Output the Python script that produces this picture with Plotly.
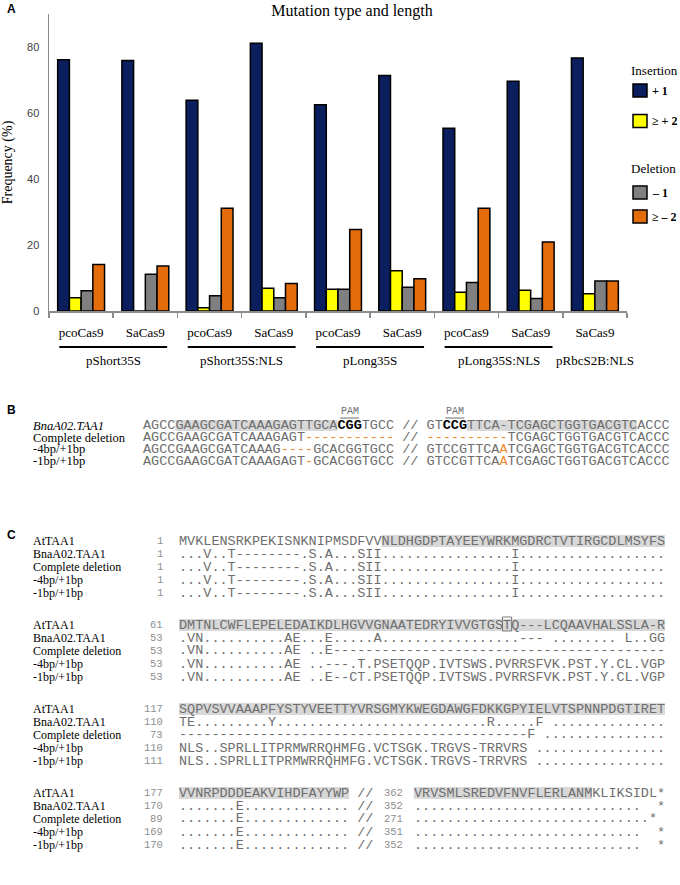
import plotly.graph_objects as go

# ---------------- Panel A data ----------------
constructs = ["pcoCas9", "SaCas9", "pcoCas9", "SaCas9", "pcoCas9",
              "SaCas9", "pcoCas9", "SaCas9", "SaCas9"]
promoters = ["pShort35S", "pShort35S:NLS", "pLong35S", "pLong35S:NLS", "pRbcS2B:NLS"]
promoter_members = [[0, 1], [2, 3], [4, 5], [6, 7], [8]]

ins_1 = [76.1, 75.9, 63.9, 81.1, 62.5, 71.4, 55.4, 69.6, 76.7]
ins_ge2 = [4.0, 0.0, 1.0, 6.9, 6.6, 12.2, 5.7, 6.3, 5.2]
del_1 = [6.1, 11.1, 4.6, 4.0, 6.6, 7.2, 8.6, 3.8, 9.1]
del_ge2 = [14.1, 13.6, 31.1, 8.3, 24.7, 9.8, 31.1, 20.9, 9.1]

series_names = ["+ 1", "≥ + 2", "– 1", "≥ – 2"]
series_values = [ins_1, ins_ge2, del_1, del_ge2]
series_colors = ["#0b1f5e", "#ffff00", "#808080", "#e46c0a"]
legend_groups = ["Insertion", "Deletion"]

y_ticks = [0, 20, 40, 60, 80]

# ---------------- Panel B data ----------------
b_names = ["<i>BnaA02.TAA1</i>", "Complete deletion", "-4bp/+1bp", "-1bp/+1bp"]
# segments: (text, kind)  n = normal grey, b = bold black, o = orange
b_rows = [
    [("AGCC", "n"), ("GAAGCGATCAAAGAGTTGCA", "n"), ("CGG", "b"), ("TGCC", "n"), (" // ", "n"),
     ("GT", "n"), ("CCG", "b"), ("TTCA-TCGAGCTGGTGACGTC", "n"), ("ACCC", "n")],
    [("AGCCGAAGCGATCAAAGAGT", "n"), ("-----------", "o"), (" // ", "n"),
     ("----------", "o"), ("TCGAGCTGGTGACGTCACCC", "n")],
    [("AGCCGAAGCGATCAAAG", "n"), ("----", "o"), ("GCACGGTGCC", "n"), (" // GTCCGTTCA", "n"),
     ("A", "o"), ("TCGAGCTGGTGACGTCACCC", "n")],
    [("AGCCGAAGCGATCAAAGAGT", "n"), ("-", "o"), ("GCACGGTGCC", "n"), (" // GTCCGTTCA", "n"),
     ("A", "o"), ("TCGAGCTGGTGACGTCACCC", "n")],
]
b_highlights = [(4, 24), (40, 61)]   # column ranges shaded on first row
b_pam_cols = [24, 37]

# ---------------- Panel C data ----------------
c_names = ["AtTAA1", "BnaA02.TAA1", "Complete deletion", "-4bp/+1bp", "-1bp/+1bp"]
c_starts = [[1, 1, 1, 1, 1], [61, 53, 53, 53, 53], [117, 110, 73, 110, 111], [177, 170, 89, 169, 170]]
c_block1 = [
    "MVKLENSRKPEKISNKNIPMSDFVVNLDHGDPTAYEEYWRKMGDRCTVTIRGCDLMSYFS",
    "...V..T--------.S.A...SII" + "." * 16 + "I" + "." * 18,
    "...V..T--------.S.A...SII" + "." * 16 + "I" + "." * 18,
    "...V..T--------.S.A...SII" + "." * 16 + "I" + "." * 18,
    "...V..T--------.S.A...SII" + "." * 16 + "I" + "." * 18,
]
c_block2 = [
    "DMTNLCWFLEPELEDAIKDLHGVVGNAATEDRYIVVGTGSTQ---LCQAAVHALSSLA-R",
    ".VN" + "." * 10 + "AE...E" + "." * 5 + "A" + "." * 17 + "--- " + "." * 8 + " L..GG",
    ".VN" + "." * 10 + "AE ..E" + "-" * 41,
    ".VN" + "." * 10 + "AE ..---.T.PSETQQP.IVTSWS.PVRRSFVK.PST.Y.CL.VGP",
    ".VN" + "." * 10 + "AE ..E--CT.PSETQQP.IVTSWS.PVRRSFVK.PST.Y.CL.VGP",
]
c_block3 = [
    "SQPVSVVAAAPFYSTYVEETTYVRSGMYKWEGDAWGFDKKGPYIELVTSPNNPDGTIRET",
    "TE" + "." * 9 + "Y" + "." * 26 + "R" + "." * 5 + "F " + "." * 14,
    "-" * 43 + "F " + "." * 15,
    "NLS..SPRLLITPRMWRRQHMFG.VCTSGK.TRGVS-TRRVRS " + "." * 16,
    "NLS..SPRLLITPRMWRRQHMFG.VCTSGK.TRGVS-TRRVRS " + "." * 16,
]
c_block4_left = [
    "VVNRPDDDEAKVIHDFAYYWP",
    ".......E.............",
    ".......E.............",
    ".......E.............",
    ".......E.............",
]
c_block4_mid = [362, 352, 271, 351, 352]
c_block4_right = [
    "VRVSMLSREDVFNVFLERLANMKLIKSIDL*",
    "." * 28 + "  *",
    "." * 29 + "*",
    "." * 28 + "  *",
    "." * 28 + "  *",
]
c_highlights = [[(25, 60)], [(0, 60)], [(0, 60)], [(0, 21), (29, 51)]]
c_boxed = (1, 40)  # block index, column of boxed residue

# ---------------- layout geometry ----------------
W, H = 680, 885
ML, MR, MT, MB = 49, 53, 14, 574
PW = W - ML - MR
PH = H - MT - MB


def xp(px):
    return (px - ML) / PW


def yp(py):
    return (H - MB - py) / PH


SERIF = "Liberation Serif"
SANS = "Liberation Sans"
MONO = "Liberation Mono"
SEQ_GREY = "#6e6e6e"
NUM_GREY = "#8e8e8e"
ORANGE_TXT = "#ee8a2a"
SHADE = "#d8d8d8"
MONO_SIZE = 13.5
CW = MONO_SIZE * 0.6

fig = go.Figure()
x_idx = list(range(len(constructs)))
for name, vals, col in zip(series_names, series_values, series_colors):
    fig.add_trace(go.Bar(x=x_idx, y=vals, name=name,
                         marker=dict(color=col, line=dict(color="#000000", width=1.5)),
                         showlegend=False, hoverinfo="skip"))

shapes = []
annotations = []


def ann(x, y, text, size, family, color="#000000", xanchor="left", yanchor="middle", **kw):
    d = dict(x=x, y=y, xref="paper", yref="paper", text=text, showarrow=False,
             xanchor=xanchor, yanchor=yanchor, borderpad=0, borderwidth=0,
             font=dict(family=family, size=size, color=color))
    d.update(kw)
    annotations.append(d)


# panel letters
ann(xp(7), yp(9), "<b>A</b>", 12, SANS)
ann(xp(7), yp(410), "<b>B</b>", 12, SANS)
ann(xp(7), yp(535), "<b>C</b>", 12, SANS)

# group labels and underlines under the x axis
for label, members in zip(promoters, promoter_members):
    centre = sum(members) / len(members)
    annotations.append(dict(x=centre, y=yp(361), xref="x", yref="paper", text=label,
                            showarrow=False, xanchor="center", yanchor="middle",
                            font=dict(family=SERIF, size=13, color="#000000")))
    if len(members) > 1:
        shapes.append(dict(type="line", xref="x", yref="paper",
                           x0=members[0] - 0.34, x1=members[-1] + 0.34,
                           y0=yp(347), y1=yp(347), line=dict(color="#000000", width=2)))

# manual legend
leg_x = 633
leg_rows = [("title", legend_groups[0], 70), ("item", 0, 90.5), ("item", 1, 121),
            ("title", legend_groups[1], 168), ("item", 2, 192.5), ("item", 3, 216.5)]
for kind, val, yc in leg_rows:
    if kind == "title":
        ann(xp(631), yp(yc), val, 13, SERIF)
    else:
        shapes.append(dict(type="rect", xref="paper", yref="paper",
                           x0=xp(leg_x), x1=xp(leg_x + 14), y0=yp(yc - 6.5), y1=yp(yc + 6.5),
                           fillcolor=series_colors[val], line=dict(color="#000000", width=1.5)))
        ann(xp(leg_x + 19), yp(yc), "<b>" + series_names[val] + "</b>", 12, SERIF)


def seg_html(segs):
    out = []
    for txt, kind in segs:
        t = txt.replace(" ", "\u00a0")
        if kind == "b":
            out.append("<b><span style='color:#000000'>" + t + "</span></b>")
        elif kind == "o":
            out.append("<span style='color:" + ORANGE_TXT + "'>" + t + "</span>")
        else:
            out.append(t)
    return "".join(out)


# ---------------- Panel B ----------------
B_SEQ_X = 143
b_rows_y = [425.5, 437.5, 449.3, 461]
for c0, c1 in b_highlights:
    shapes.append(dict(type="rect", xref="paper", yref="paper", layer="below",
                       x0=xp(B_SEQ_X + c0 * CW), x1=xp(B_SEQ_X + c1 * CW),
                       y0=yp(b_rows_y[0] - 5.5), y1=yp(b_rows_y[0] + 5.5),
                       fillcolor=SHADE, line=dict(width=0)))
for name, segs, yc in zip(b_names, b_rows, b_rows_y):
    ann(xp(33), yp(yc), name, 12.5, SERIF)
    ann(xp(B_SEQ_X), yp(yc), seg_html(segs), MONO_SIZE, MONO, SEQ_GREY)
for col in b_pam_cols:
    xc = B_SEQ_X + (col + 1.5) * CW
    ann(xp(xc), yp(411.5), "PAM", 10, MONO, SEQ_GREY, xanchor="center")
    shapes.append(dict(type="line", xref="paper", yref="paper",
                       x0=xp(xc - 9.5), x1=xp(xc + 9.5), y0=yp(418), y1=yp(418),
                       line=dict(color=SEQ_GREY, width=1)))

# ---------------- Panel C ----------------
C_SEQ_X = 179
C_NUM_R = 163
c_block_y = [541, 625, 709, 793]
C_DY = 13
blocks = [c_block1, c_block2, c_block3]
for bi, y0 in enumerate(c_block_y):
    for c0, c1 in c_highlights[bi]:
        shapes.append(dict(type="rect", xref="paper", yref="paper", layer="below",
                           x0=xp(C_SEQ_X + c0 * CW), x1=xp(C_SEQ_X + c1 * CW),
                           y0=yp(y0 - 6), y1=yp(y0 + 6),
                           fillcolor=SHADE, line=dict(width=0)))
    for ri in range(5):
        yc = y0 + ri * C_DY
        ann(xp(33), yp(yc), c_names[ri], 12, SERIF)
        ann(xp(C_NUM_R), yp(yc), str(c_starts[bi][ri]), 10.5, MONO, NUM_GREY, xanchor="right")
        if bi < 3:
            ann(xp(C_SEQ_X), yp(yc), blocks[bi][ri].replace(" ", "\u00a0"), MONO_SIZE, MONO, SEQ_GREY)
        else:
            ann(xp(C_SEQ_X), yp(yc), (c_block4_left[ri] + " //").replace(" ", "\u00a0"),
                MONO_SIZE, MONO, SEQ_GREY)
            ann(xp(C_SEQ_X + 26.5 * CW), yp(yc), str(c_block4_mid[ri]), 10.5, MONO, NUM_GREY,
                xanchor="center")
            ann(xp(C_SEQ_X + 29 * CW), yp(yc), c_block4_right[ri].replace(" ", "\u00a0"),
                MONO_SIZE, MONO, SEQ_GREY)

bb, bc = c_boxed
by = c_block_y[bb]
shapes.append(dict(type="rect", xref="paper", yref="paper",
                   x0=xp(C_SEQ_X + bc * CW - 0.5), x1=xp(C_SEQ_X + (bc + 1) * CW + 0.5),
                   y0=yp(by - 8), y1=yp(by + 6), line=dict(color="#7a7a7a", width=1)))

fig.update_layout(
    width=W, height=H,
    margin=dict(l=ML, r=MR, t=MT, b=MB, autoexpand=False),
    paper_bgcolor="#ffffff", plot_bgcolor="#ffffff",
    barmode="group", bargap=0.27, bargroupgap=0,
    title=dict(text="Mutation type and length", x=352 / W, xanchor="center",
               y=1 - 10 / H, yanchor="middle",
               font=dict(family=SERIF, size=16, color="#000000")),
    showlegend=False,
    hovermode=False,
    xaxis=dict(range=[-0.5, 8.5], tickmode="array", tickvals=x_idx, ticktext=constructs,
               ticks="", showline=True, linecolor="#8c8c8c", linewidth=1.5,
               showgrid=False, zeroline=False, fixedrange=True,
               tickfont=dict(family=SERIF, size=13, color="#000000"),
               ticklabelstandoff=9,
               minor=dict(tickmode="array", tickvals=[i - 0.5 for i in range(10)],
                          ticks="outside", ticklen=5, tickwidth=1.5, tickcolor="#8c8c8c")),
    yaxis=dict(range=[0, 90], tickmode="array", tickvals=y_ticks, ticks="",
               showline=True, linecolor="#8c8c8c", linewidth=1.5,
               showgrid=False, zeroline=False, fixedrange=True,
               tickfont=dict(family=SANS, size=11, color="#404040"),
               ticklabelstandoff=6,
               title=dict(text="Frequency (%)", standoff=14,
                          font=dict(family=SERIF, size=14, color="#000000"))),
    shapes=shapes,
    annotations=annotations,
)

fig.write_html("out.html", config={"displayModeBar": False, "staticPlot": True},
               post_script="document.body.style.margin='0';document.body.style.overflow='hidden';")
